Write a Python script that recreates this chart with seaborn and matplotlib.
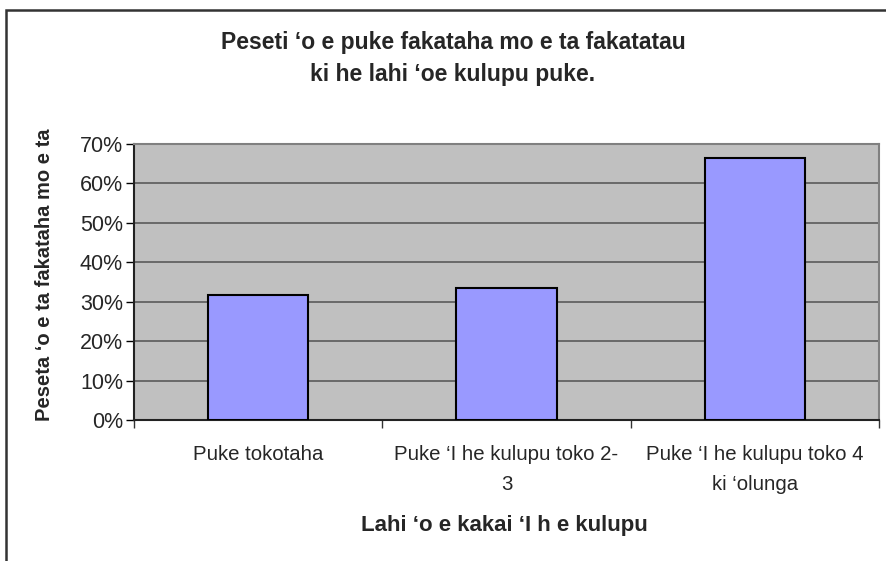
import matplotlib
matplotlib.use('Agg')
import matplotlib.pyplot as plt
import seaborn as sns
import pandas as pd
from matplotlib.patches import Rectangle
from matplotlib.ticker import FixedLocator

# ---- data ----
categories = ["Puke tokotaha",
              "Puke ‘I he kulupu toko 2-\n3",
              "Puke ‘I he kulupu toko 4\nki ‘olunga"]
values = [31.8, 33.4, 66.4]
y_ticks = [0, 10, 20, 30, 40, 50, 60, 70]
y_tick_labels = ["0%", "10%", "20%", "30%", "40%", "50%", "60%", "70%"]
title_text = "Peseti ‘o e puke fakataha mo e ta fakatatau\nki he lahi ‘oe kulupu puke."
x_label = "Lahi ‘o e kakai ‘I h e kulupu"
y_label = "Peseta ‘o e ta fakataha mo e ta"

sns.set_style("white")
plt.rcParams['font.family'] = ['Liberation Sans', 'DejaVu Sans']

W, H = 886, 561
fig = plt.figure(figsize=(W / 100, H / 100), dpi=100)
L, R, T, B = 134, 879, 144, 420
ax = fig.add_axes([L / W, 1 - B / H, (R - L) / W, (B - T) / H])

df = pd.DataFrame({"cat": categories, "val": values})
sns.barplot(data=df, x="cat", y="val", ax=ax, color="#9999FF", saturation=1,
            width=0.405, edgecolor="black", linewidth=1.5, zorder=3)

ax.set_facecolor("#C0C0C0")
ax.set_xlim(-0.5, 2.5)
ax.set_ylim(0, 70)
ax.set_yticks(y_ticks)
ax.set_yticklabels(y_tick_labels)
ax.yaxis.grid(True, color="#5a5a5a", linewidth=1.2, zorder=1)
ax.xaxis.grid(False)
ax.set_axisbelow(True)

ax.tick_params(axis='y', which='major', direction='out', length=6, width=1,
               color='black', labelsize=15.5, pad=2, left=True)
ax.tick_params(axis='x', which='major', length=0, labelsize=14.7, pad=18)
ax.xaxis.set_minor_locator(FixedLocator([-0.5, 0.5, 1.5, 2.5]))
ax.tick_params(axis='x', which='minor', direction='out', length=6, width=1,
               color='#333333', bottom=True)
for lab in ax.get_xticklabels():
    lab.set_multialignment('center')
    lab.set_linespacing(1.75)

for s in ['top', 'right']:
    ax.spines[s].set_color('#808080')
    ax.spines[s].set_linewidth(1.5)
for s in ['left', 'bottom']:
    ax.spines[s].set_color('#222222')
    ax.spines[s].set_linewidth(1.5)

ax.set_xlabel(x_label, fontsize=16, fontweight='bold')
ax.set_ylabel(y_label, fontsize=14.5, fontweight='bold')
ax.xaxis.set_label_coords((504 - L) / (R - L), (B - 525) / (B - T))
ax.xaxis.label.set_va('center')
ax.yaxis.set_label_coords((45 - L) / (R - L), (B - 275) / (B - T))
ax.yaxis.label.set_va('center')

fig.text(453 / W, 1 - 58.5 / H, title_text, ha='center', va='center',
         fontsize=16.5, fontweight='bold', linespacing=1.45)

frame = Rectangle((6 / W, -0.2), 1.2, 0.2 + (1 - 10 / H), transform=fig.transFigure,
                  fill=False, edgecolor='#333333', linewidth=1.8, clip_on=False)
fig.patches.append(frame)

fig.savefig("out.png", dpi=100, facecolor='white')
